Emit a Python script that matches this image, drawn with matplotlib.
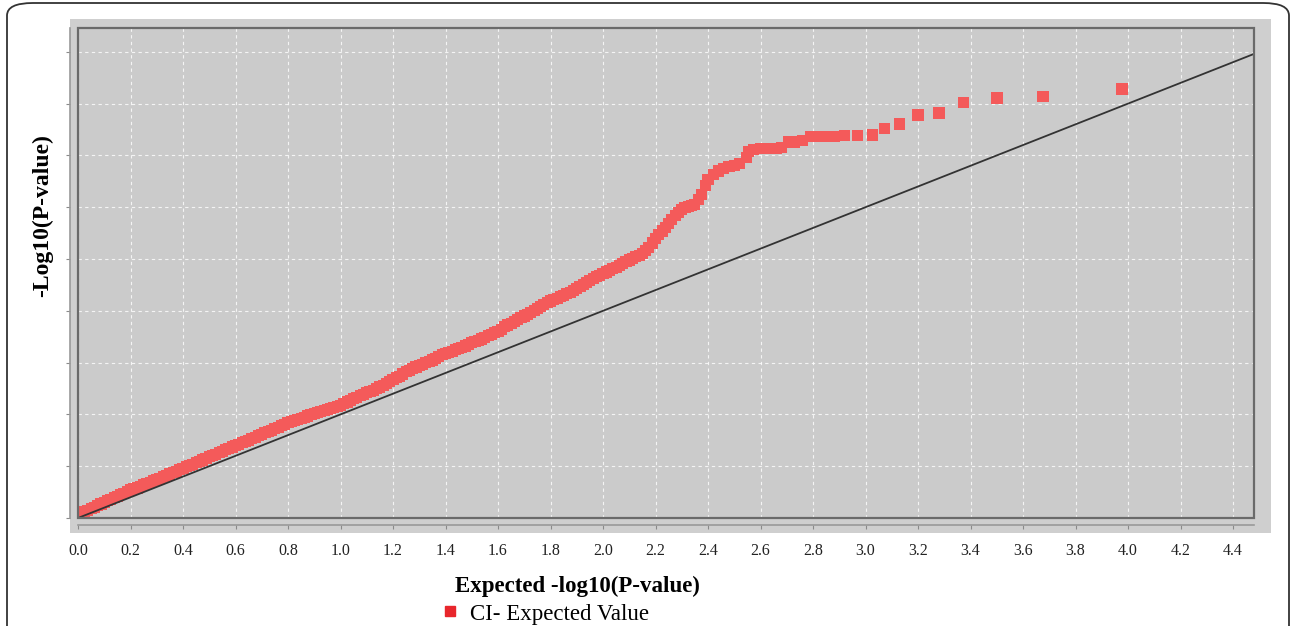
import matplotlib.pyplot as plt
from matplotlib.patches import Rectangle, FancyBboxPatch
from matplotlib.lines import Line2D

expected = [0.000, 0.025, 0.050, 0.075, 0.100, 0.125, 0.150, 0.175, 0.200, 0.225,
            0.250, 0.275, 0.300, 0.325, 0.350, 0.375, 0.400, 0.425, 0.450, 0.475,
            0.500, 0.525, 0.550, 0.575, 0.600, 0.625, 0.650, 0.675, 0.700, 0.725,
            0.750, 0.775, 0.800, 0.825, 0.850, 0.875, 0.900, 0.925, 0.950, 0.975,
            1.000, 1.025, 1.050, 1.075, 1.100, 1.125, 1.150, 1.175, 1.200, 1.225,
            1.250, 1.275, 1.300, 1.325, 1.350, 1.375, 1.400, 1.425, 1.450, 1.475,
            1.500, 1.525, 1.550, 1.575, 1.600, 1.625, 1.650, 1.675, 1.700, 1.725,
            1.750, 1.775, 1.800, 1.825, 1.850, 1.875, 1.900, 1.925, 1.950, 1.975,
            2.000, 2.025, 2.050, 2.075, 2.100, 2.125, 2.150, 2.175, 2.200, 2.225,
            2.250, 2.275, 2.300, 2.325, 2.350, 2.375, 2.390, 2.400, 2.420, 2.440,
            2.460, 2.480, 2.500, 2.520, 2.545, 2.555, 2.575, 2.600, 2.620, 2.640,
            2.660, 2.680, 2.705, 2.730, 2.760, 2.790, 2.820, 2.850, 2.880, 2.920,
            2.970, 3.025, 3.074, 3.131, 3.200, 3.280, 3.375, 3.501, 3.676, 3.977]
observed = [0.030, 0.060, 0.090, 0.120, 0.150, 0.180, 0.210, 0.240, 0.270, 0.290,
            0.320, 0.345, 0.370, 0.400, 0.425, 0.450, 0.480, 0.505, 0.535, 0.560,
            0.590, 0.615, 0.645, 0.670, 0.700, 0.725, 0.750, 0.780, 0.810, 0.835,
            0.860, 0.890, 0.920, 0.940, 0.960, 0.985, 1.005, 1.025, 1.045, 1.065,
            1.090, 1.120, 1.150, 1.180, 1.210, 1.235, 1.265, 1.300, 1.335, 1.370,
            1.410, 1.445, 1.470, 1.500, 1.525, 1.560, 1.590, 1.610, 1.635, 1.660,
            1.690, 1.715, 1.740, 1.775, 1.800, 1.845, 1.880, 1.915, 1.950, 1.985,
            2.020, 2.065, 2.095, 2.120, 2.150, 2.180, 2.215, 2.250, 2.290, 2.330,
            2.360, 2.390, 2.420, 2.455, 2.490, 2.520, 2.555, 2.610, 2.700, 2.770,
            2.840, 2.920, 2.980, 3.010, 3.030, 3.120, 3.210, 3.270, 3.320, 3.350,
            3.370, 3.390, 3.400, 3.420, 3.480, 3.540, 3.560, 3.570, 3.570, 3.570,
            3.570, 3.580, 3.630, 3.630, 3.640, 3.680, 3.680, 3.680, 3.680, 3.690,
            3.690, 3.697, 3.764, 3.803, 3.890, 3.909, 4.015, 4.054, 4.073, 4.141]

# points lying between the ones above in the dense part of the band
expected_mid = [0.0125, 0.0375, 0.0625, 0.0875, 0.1125, 0.1375, 0.1625, 0.1875,
                0.2125, 0.2375, 0.2625, 0.2875, 0.3125, 0.3375, 0.3625, 0.3875,
                0.4125, 0.4375, 0.4625, 0.4875, 0.5125, 0.5375, 0.5625, 0.5875,
                0.6125, 0.6375, 0.6625, 0.6875, 0.7125, 0.7375, 0.7625, 0.7875,
                0.8125, 0.8375, 0.8625, 0.8875, 0.9125, 0.9375, 0.9625, 0.9875,
                1.0125, 1.0375, 1.0625, 1.0875, 1.1125, 1.1375, 1.1625, 1.1875,
                1.2125, 1.2375, 1.2625, 1.2875, 1.3125, 1.3375, 1.3625, 1.3875,
                1.4125, 1.4375, 1.4625, 1.4875, 1.5125, 1.5375, 1.5625, 1.5875,
                1.6125, 1.6375, 1.6625, 1.6875, 1.7125, 1.7375, 1.7625, 1.7875,
                1.8125, 1.8375, 1.8625, 1.8875, 1.9125, 1.9375, 1.9625, 1.9875,
                2.0125, 2.0375, 2.0625, 2.0875, 2.1125, 2.1375, 2.1625, 2.1875,
                2.2125, 2.2375, 2.2625, 2.2875, 2.3125, 2.3375, 2.3625]
observed_mid = [0.045, 0.075, 0.105, 0.135, 0.165, 0.195, 0.225, 0.255,
                0.280, 0.305, 0.333, 0.358, 0.385, 0.413, 0.438, 0.465,
                0.493, 0.520, 0.548, 0.575, 0.603, 0.630, 0.658, 0.685,
                0.713, 0.738, 0.765, 0.795, 0.823, 0.848, 0.875, 0.905,
                0.930, 0.950, 0.973, 0.995, 1.015, 1.035, 1.055, 1.078,
                1.105, 1.135, 1.165, 1.195, 1.223, 1.250, 1.283, 1.318,
                1.353, 1.390, 1.428, 1.458, 1.485, 1.513, 1.543, 1.575,
                1.600, 1.623, 1.648, 1.675, 1.703, 1.728, 1.758, 1.788,
                1.823, 1.863, 1.898, 1.933, 1.968, 2.003, 2.043, 2.080,
                2.108, 2.135, 2.165, 2.198, 2.233, 2.270, 2.310, 2.345,
                2.375, 2.405, 2.438, 2.473, 2.505, 2.538, 2.583, 2.655,
                2.735, 2.805, 2.880, 2.950, 2.995, 3.020, 3.075]

diag = [0.0, 4.48]
xticks = [0.0, 0.2, 0.4, 0.6, 0.8, 1.0, 1.2, 1.4, 1.6, 1.8, 2.0, 2.2,
          2.4, 2.6, 2.8, 3.0, 3.2, 3.4, 3.6, 3.8, 4.0, 4.2, 4.4]
yticks = [0.0, 0.5, 1.0, 1.5, 2.0, 2.5, 3.0, 3.5, 4.0, 4.5]

W, H = 1292, 626
fig = plt.figure(figsize=(W / 100, H / 100), dpi=100)

# outer rounded box and grey panel behind the axes
fig.patches.append(FancyBboxPatch((7 / W, -0.1), 1282 / W, 1.1 - 3 / H,
                                  boxstyle='round,pad=0,rounding_size=0.02',
                                  transform=fig.transFigure, fill=False,
                                  edgecolor='#333333', lw=1.3, zorder=-2))
fig.patches.append(Rectangle((70 / W, 1 - 533 / H), 1201 / W, 514 / H,
                             transform=fig.transFigure, facecolor='#cfcfcf',
                             edgecolor='none', zorder=-1))

ax = fig.add_axes([78 / W, 1 - 518 / H, 1176 / W, 490 / H])
ax.set_zorder(1)
ax.set_facecolor('#cbcbcb')

ax.scatter(expected + expected_mid, observed + observed_mid, marker='s', s=64,
           color='#f45a5a', edgecolors='none', zorder=3)
ax.plot(diag, diag, color='#333333', lw=1.3, zorder=4)

ax.set_xlim(0, 4.48)
ax.set_ylim(0, 4.73)
ax.set_xticks(xticks)
ax.set_yticks(yticks)
ax.set_xticklabels([f'{t:.1f}' for t in xticks])
ax.set_yticklabels([])
ax.grid(True, color='white', ls=(0, (3, 3)), lw=0.8, alpha=0.8)
ax.set_axisbelow(True)

for s in ['top', 'right']:
    ax.spines[s].set_visible(False)
ax.spines['left'].set_position(('outward', 6))
ax.spines['bottom'].set_position(('outward', 5))
for s in ['left', 'bottom']:
    ax.spines[s].set_color('#9a9a9a')
    ax.spines[s].set_linewidth(1.2)
ax.tick_params(axis='both', direction='out', length=3, color='#8a8a8a',
               labelsize=11.5, pad=10, labelcolor='#222222')
for lab in ax.get_xticklabels():
    lab.set_family('Liberation Serif')

ax.add_patch(Rectangle((0, 0), 1, 1, transform=ax.transAxes, fill=False,
                       edgecolor='#6a6a6a', lw=1.6, zorder=5, clip_on=False))

fig.text(577 / W, 1 - 586 / H, 'Expected -log10(P-value)', ha='center',
         va='center', family='Liberation Serif', weight='bold', fontsize=16.5)
fig.text(43 / W, 1 - 216 / H, '-Log10(P-value)', ha='center', va='center',
         rotation=90, family='Liberation Serif', weight='bold', fontsize=17)

handle = Line2D([], [], ls='none', marker='s', markersize=7,
                markerfacecolor='#e8262c', markeredgecolor='#e8262c')
fig.legend([handle], ['CI- Expected Value'], loc='center left',
           bbox_to_anchor=(429 / W, 1 - 614 / H), frameon=False,
           prop={'family': 'Liberation Serif', 'size': 16.5},
           handlelength=0.8, handletextpad=0.5, borderpad=0)

fig.savefig('out.png', dpi=100)
